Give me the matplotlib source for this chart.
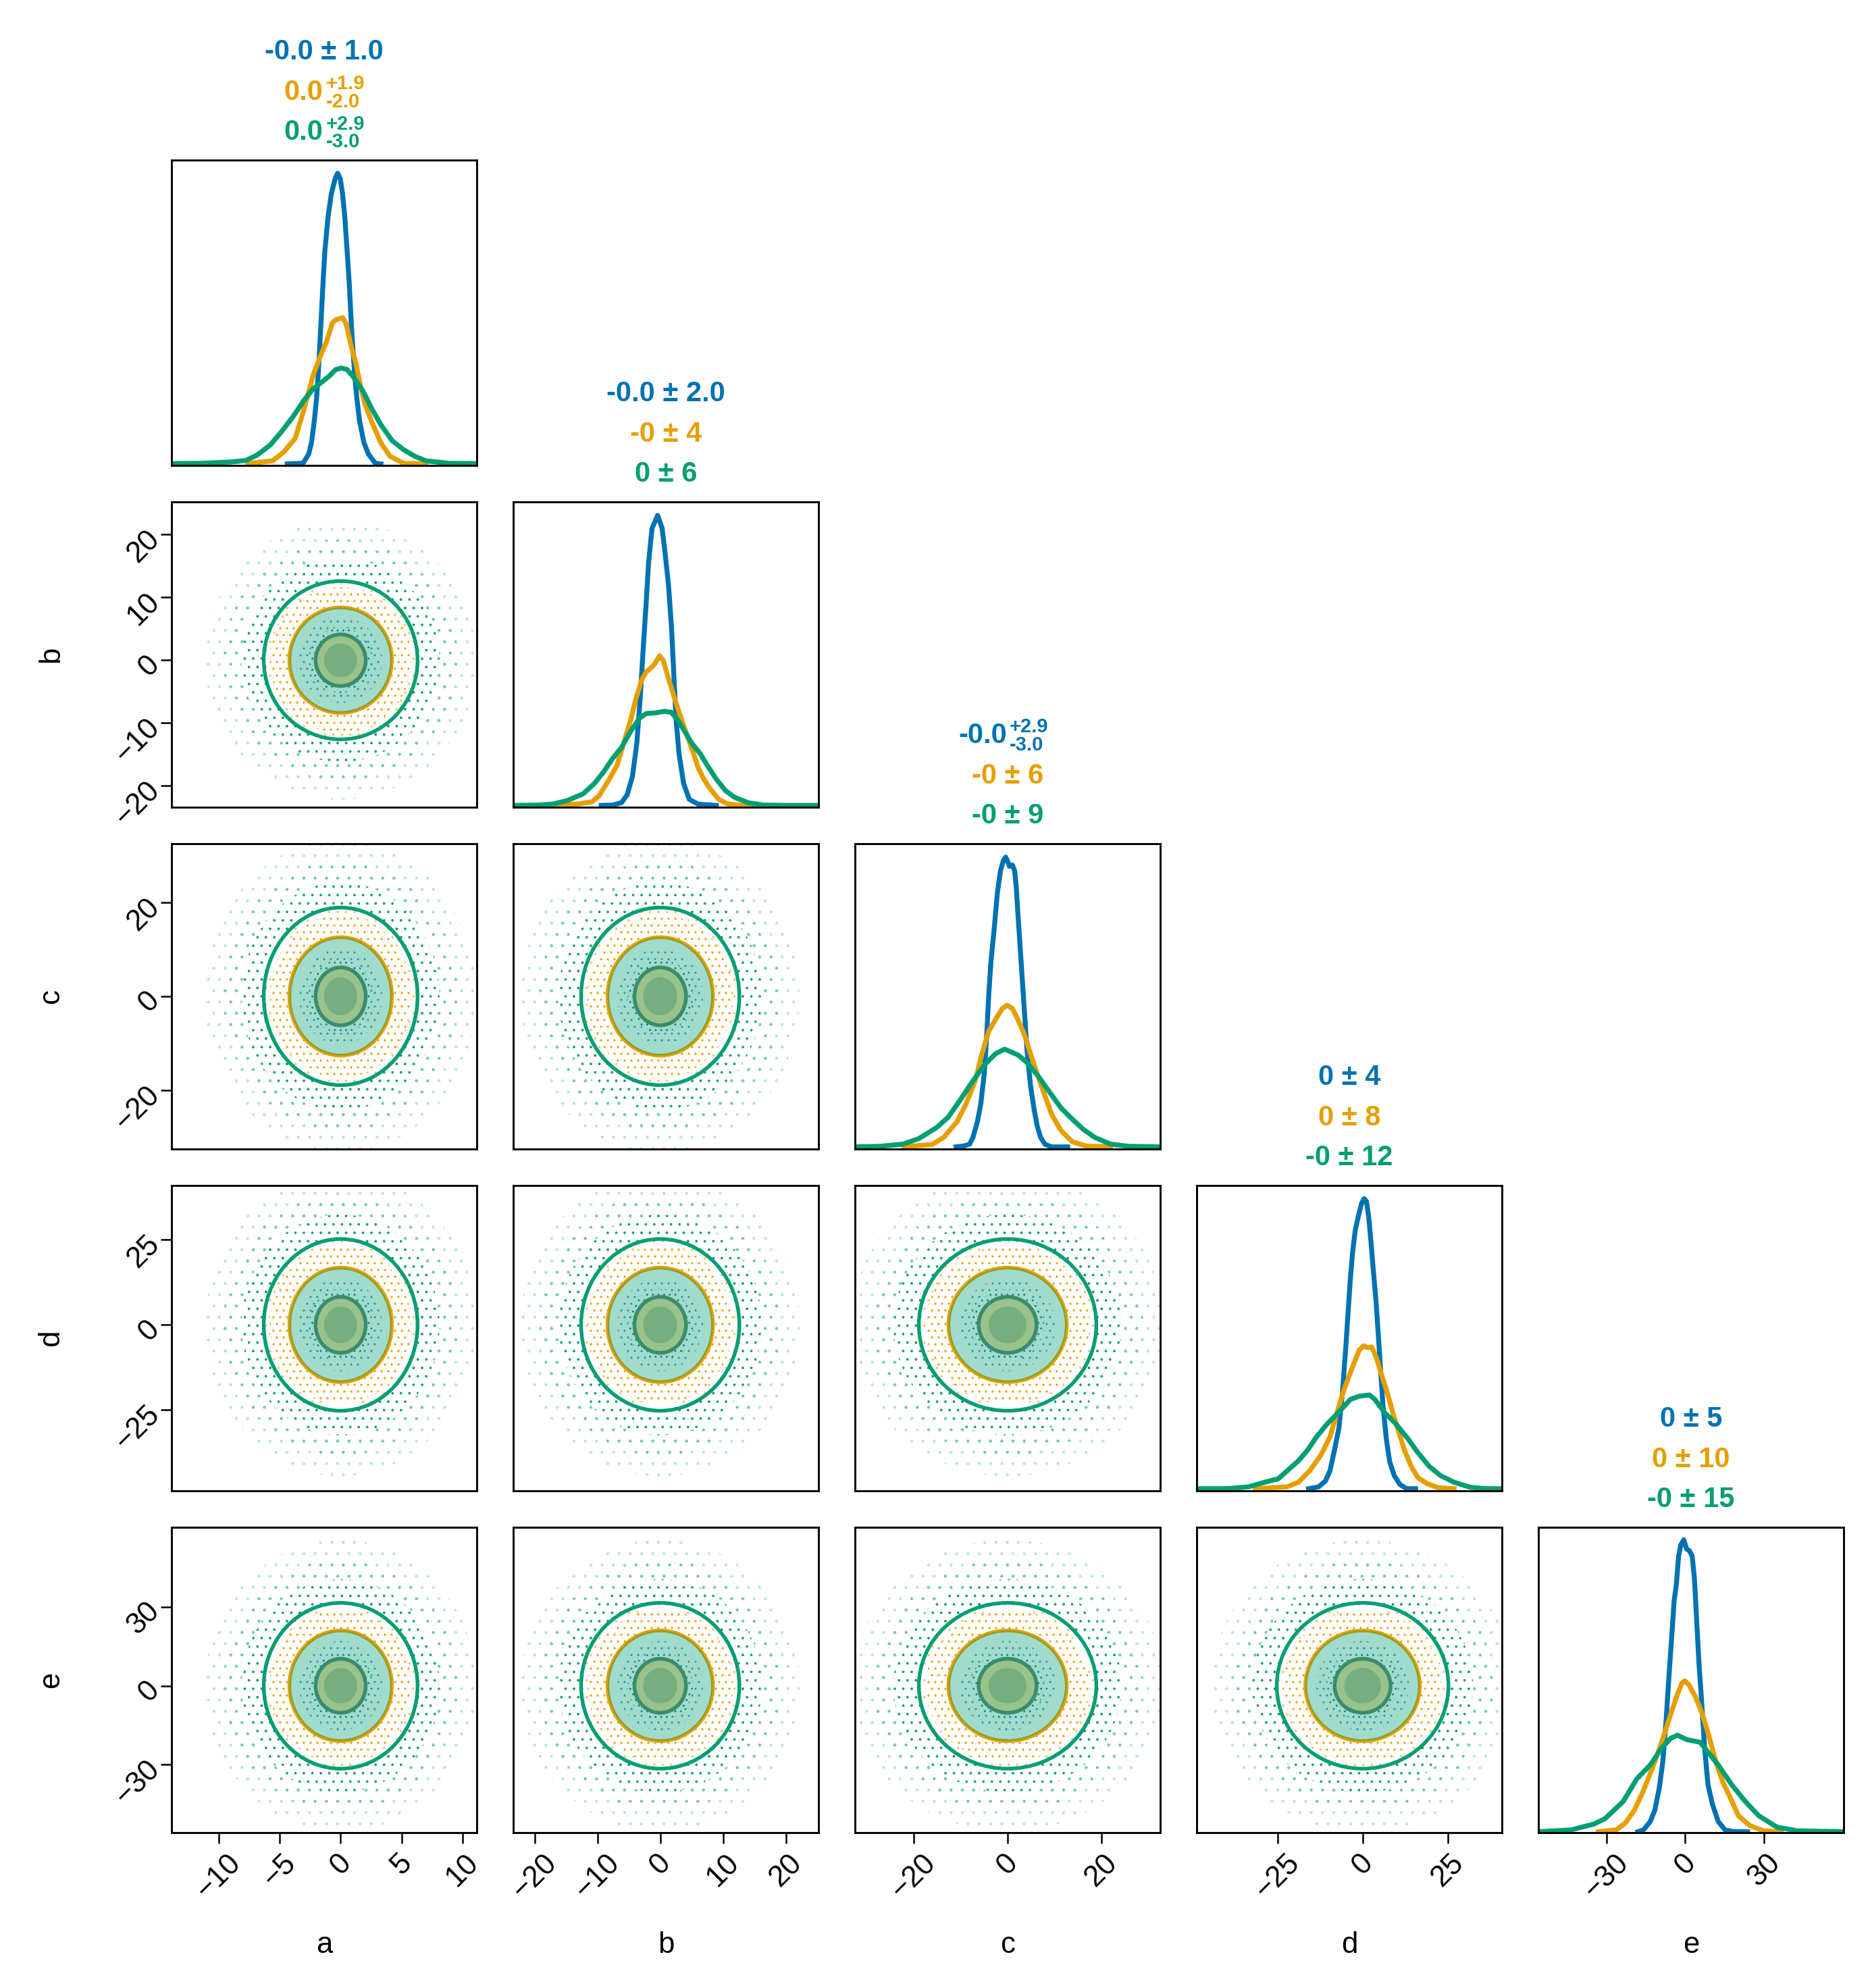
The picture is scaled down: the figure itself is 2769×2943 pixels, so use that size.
import matplotlib
matplotlib.use("Agg")
import matplotlib.pyplot as plt
from matplotlib.patches import Circle, Wedge
from matplotlib.transforms import Affine2D

plt.rcParams['font.family'] = ['Liberation Sans', 'DejaVu Sans']
plt.rcParams['hatch.linewidth'] = 0.3

names = ["a", "b", "c", "d", "e"]
colors = ["#0072B2", "#E69F00", "#009E73"]

# axis ranges and ticks for each variable
limits = [(-13.85, 11.15), (-23.4, 25.2), (-32.5, 32.5), (-48.7, 40.9), (-55.8, 60.2)]
ticks = [[-10, -5, 0, 5, 10], [-20, -10, 0, 10, 20], [-20, 0, 20], [-25, 0, 25], [-30, 0, 30]]

# spread of each series in every variable (read from the titles)
sigma_blue = [1.0, 2.0, 3.0, 4.0, 5.0]
sigma_orange = [2.0, 4.0, 6.0, 8.0, 10.0]
sigma_green = [3.0, 6.0, 9.0, 12.0, 15.0]

# titles above the diagonal panels, (value, upper, lower) for asymmetric ones
title_blue = ["-0.0 ± 1.0", "-0.0 ± 2.0", ("-0.0", "+2.9", "-3.0"), "0 ± 4", "0 ± 5"]
title_orange = [("0.0", "+1.9", "-2.0"), "-0 ± 4", "-0 ± 6", "0 ± 8", "0 ± 10"]
title_green = [("0.0", "+2.9", "-3.0"), "0 ± 6", "-0 ± 9", "-0 ± 12", "-0 ± 15"]

# contour levels of the 2d panels, in units of each series' sigma
fill_r = [1.35, 1.1, 1.4]
line_r = [2.05, 2.1, 2.1]
# scatter zones outside the outer contour: (inner, outer, hatch, alpha)
dots_blue = [(2.1, 2.6, '......', 1.0), (2.6, 3.4, '.....', 0.6)]
dots_orange = [(2.1, 2.9, '.....', 1.0), (2.9, 3.5, '....', 0.45)]
dots_green = [(2.1, 2.7, '....', 0.95), (2.7, 3.2, '...', 0.45), (3.2, 3.7, '...', 0.2)]

# marginal densities (height relative to panel)
a_blue_x = [-4.37, -3.08, -2.62, -2.39, -2.15, -1.97, -1.84, -1.64, -1.45, -1.29, -1.03, -0.77, -0.45, -0.25,
            -0.03, 0.16, 0.34, 0.53, 0.71, 0.90, 1.15, 1.32, 1.54, 1.91, 2.28, 2.84, 3.30]
a_blue_y = [0.005, 0.007, 0.037, 0.074, 0.148, 0.222, 0.296, 0.444, 0.592, 0.703, 0.814, 0.888, 0.939, 0.957,
            0.939, 0.888, 0.814, 0.703, 0.592, 0.444, 0.296, 0.222, 0.148, 0.074, 0.037, 0.007, 0.005]
a_orange_x = [-7.60, -5.57, -4.65, -3.72, -2.99, -2.25, -1.69, -1.14, -0.68, -0.40, 0.16, 0.43, 0.90, 1.26,
              1.63, 2.00, 2.56, 3.30, 4.04, 5.14, 6.99]
a_orange_y = [0.006, 0.015, 0.044, 0.089, 0.185, 0.296, 0.355, 0.407, 0.466, 0.477, 0.484, 0.466, 0.385, 0.333,
              0.259, 0.200, 0.141, 0.074, 0.030, 0.007, 0.005]
a_green_x = [-13.85, -11.48, -9.08, -7.79, -6.87, -5.76, -4.83, -3.91, -2.99, -2.25, -1.51, -0.95, -0.40, 0.06,
             0.53, 1.08, 1.82, 2.56, 3.30, 4.22, 5.14, 6.07, 6.99, 8.84, 11.15]
a_green_y = [0.006, 0.007, 0.011, 0.016, 0.033, 0.067, 0.111, 0.159, 0.214, 0.251, 0.274, 0.292, 0.314, 0.319,
             0.314, 0.288, 0.244, 0.185, 0.133, 0.081, 0.052, 0.030, 0.015, 0.007, 0.006]

b_blue_x = [-9.39, -7.60, -6.16, -5.26, -4.43, -3.72, -3.18, -2.75, -2.28, -1.85, -1.31, -0.41, 0.31, 0.74,
            1.31, 1.82, 2.17, 2.53, 3.00, 3.72, 4.62, 6.05, 8.93]
b_blue_y = [0.006, 0.007, 0.015, 0.041, 0.100, 0.211, 0.359, 0.507, 0.655, 0.802, 0.913, 0.956, 0.913, 0.839,
            0.729, 0.581, 0.433, 0.285, 0.174, 0.078, 0.026, 0.010, 0.006]
b_orange_x = [-16.58, -12.98, -10.83, -9.75, -8.31, -6.88, -5.80, -4.72, -3.82, -2.93, -2.21, -1.31, -0.77,
              -0.12, 0.49, 1.03, 1.92, 2.82, 3.54, 4.44, 5.34, 6.05, 6.95, 7.85, 9.29, 10.72, 12.88, 14.67]
b_orange_y = [0.006, 0.011, 0.018, 0.037, 0.085, 0.137, 0.211, 0.285, 0.359, 0.418, 0.444, 0.459, 0.473,
              0.496, 0.481, 0.441, 0.381, 0.322, 0.278, 0.226, 0.174, 0.129, 0.092, 0.063, 0.026, 0.011, 0.006, 0.006]
b_green_x = [-23.4, -19.45, -16.93, -14.78, -12.26, -10.47, -9.03, -7.60, -6.16, -4.72, -3.29, -2.21, -0.77,
             0.67, 1.74, 2.82, 3.90, 4.98, 6.41, 7.49, 8.93, 10.36, 11.80, 13.96, 16.47, 20.06, 25.2]
b_green_y = [0.006, 0.007, 0.011, 0.022, 0.044, 0.078, 0.115, 0.159, 0.196, 0.248, 0.292, 0.307, 0.309,
             0.314, 0.311, 0.285, 0.248, 0.211, 0.174, 0.137, 0.092, 0.055, 0.033, 0.015, 0.007, 0.006, 0.006]

c_blue_x = [-10.98, -9.30, -8.10, -7.38, -6.42, -5.70, -4.98, -4.50, -4.02, -3.54, -2.82, -2.19, -1.52, -0.90,
            -0.41, -0.08, 0.40, 1.03, 1.51, 1.84, 2.23, 2.71, 3.19, 3.67, 4.15, 4.87, 5.59, 6.31, 7.03, 7.99,
            9.43, 12.79]
c_blue_y = [0.007, 0.010, 0.016, 0.038, 0.090, 0.149, 0.246, 0.357, 0.504, 0.615, 0.726, 0.837, 0.911, 0.945,
            0.956, 0.945, 0.926, 0.930, 0.911, 0.859, 0.763, 0.652, 0.541, 0.430, 0.320, 0.209, 0.135, 0.075,
            0.038, 0.015, 0.007, 0.007]
c_orange_x = [-22.03, -16.03, -13.62, -10.74, -8.82, -6.90, -5.46, -4.02, -2.34, -1.14, -0.08, 1.03, 2.23,
              3.67, 4.87, 6.31, 7.99, 9.43, 11.35, 13.75, 16.64, 21.92]
c_orange_y = [0.007, 0.015, 0.038, 0.090, 0.149, 0.223, 0.312, 0.386, 0.430, 0.460, 0.471, 0.460, 0.423,
              0.371, 0.312, 0.246, 0.172, 0.112, 0.061, 0.024, 0.010, 0.007]
c_green_x = [-32.5, -27.07, -22.27, -18.91, -15.06, -12.66, -10.26, -7.38, -4.98, -2.58, -0.65, 2.23, 4.15,
             6.55, 8.95, 11.35, 13.75, 16.16, 18.56, 21.92, 25.76, 32.5]
c_green_y = [0.007, 0.009, 0.016, 0.034, 0.071, 0.104, 0.157, 0.223, 0.275, 0.312, 0.327, 0.308, 0.283,
             0.238, 0.186, 0.135, 0.098, 0.064, 0.038, 0.016, 0.009, 0.007]

d_blue_x = [-15.90, -12.91, -10.93, -9.60, -8.28, -6.95, -5.96, -4.96, -4.30, -3.64, -2.97, -2.18, -1.32,
            -0.32, 0.47, 1.13, 1.80, 2.46, 3.12, 3.99, 4.65, 5.31, 5.97, 6.97, 7.96, 9.29, 10.94, 12.93, 15.58]
d_blue_y = [0.007, 0.013, 0.032, 0.065, 0.132, 0.206, 0.318, 0.466, 0.577, 0.688, 0.777, 0.852, 0.896,
            0.941, 0.957, 0.948, 0.896, 0.815, 0.726, 0.614, 0.503, 0.392, 0.280, 0.169, 0.095, 0.050, 0.021,
            0.007, 0.007]
d_orange_x = [-31.47, -22.19, -18.88, -15.57, -12.25, -9.60, -7.61, -5.63, -3.64, -1.05, 0.34, 1.33, 2.66,
              3.98, 5.64, 7.30, 8.95, 10.61, 12.27, 14.26, 16.24, 18.89, 22.21, 26.85]
d_orange_y = [0.007, 0.013, 0.028, 0.065, 0.117, 0.176, 0.252, 0.326, 0.386, 0.460, 0.475, 0.469, 0.471,
              0.438, 0.378, 0.319, 0.252, 0.193, 0.134, 0.080, 0.043, 0.024, 0.010, 0.007]
d_green_x = [-48.7, -40.09, -33.46, -28.82, -24.84, -22.19, -18.88, -16.23, -13.58, -10.26, -6.95, -3.64,
             -0.99, 2.00, 3.65, 6.30, 9.62, 12.93, 16.24, 19.56, 22.87, 26.85, 31.49, 36.12, 40.9]
d_green_y = [0.007, 0.007, 0.013, 0.028, 0.039, 0.065, 0.098, 0.132, 0.176, 0.221, 0.258, 0.299, 0.310,
             0.314, 0.299, 0.258, 0.221, 0.176, 0.125, 0.080, 0.050, 0.028, 0.012, 0.007, 0.007]

e_blue_x = [-17.99, -15.84, -13.26, -11.55, -9.83, -8.54, -7.25, -6.22, -5.10, -4.24, -3.38, -2.52, -1.66,
            -0.55, 0.48, 1.51, 2.63, 3.49, 4.35, 5.21, 6.33, 7.36, 8.64, 10.36, 12.51, 15.09, 18.53, 23.68]
e_blue_y = [0.003, 0.009, 0.037, 0.074, 0.148, 0.231, 0.370, 0.508, 0.647, 0.758, 0.813, 0.906, 0.943,
            0.959, 0.929, 0.924, 0.906, 0.832, 0.693, 0.555, 0.416, 0.277, 0.157, 0.092, 0.037, 0.009, 0.003,
            0.003]
e_orange_x = [-33.03, -26.15, -22.72, -19.28, -15.84, -12.41, -8.97, -5.53, -2.95, -1.23, -0.20, 1.34, 3.92,
              6.50, 9.08, 11.66, 14.23, 16.81, 20.25, 24.54, 29.70, 36.57]
e_orange_y = [0.003, 0.009, 0.032, 0.074, 0.139, 0.213, 0.296, 0.388, 0.453, 0.490, 0.497, 0.485, 0.444,
              0.388, 0.314, 0.231, 0.166, 0.120, 0.055, 0.023, 0.006, 0.003]
e_green_x = [-55.8, -43.34, -34.75, -30.45, -23.58, -18.42, -13.26, -8.97, -5.53, -2.95, 0.48, 5.64, 9.08,
             12.51, 17.67, 22.82, 27.98, 34.85, 42.59, 60.2]
e_green_y = [0.003, 0.009, 0.028, 0.046, 0.102, 0.176, 0.222, 0.277, 0.309, 0.319, 0.305, 0.296, 0.259,
             0.222, 0.157, 0.102, 0.055, 0.018, 0.006, 0.003]

marginals = [
    [(a_blue_x, a_blue_y), (a_orange_x, a_orange_y), (a_green_x, a_green_y)],
    [(b_blue_x, b_blue_y), (b_orange_x, b_orange_y), (b_green_x, b_green_y)],
    [(c_blue_x, c_blue_y), (c_orange_x, c_orange_y), (c_green_x, c_green_y)],
    [(d_blue_x, d_blue_y), (d_orange_x, d_orange_y), (d_green_x, d_green_y)],
    [(e_blue_x, e_blue_y), (e_orange_x, e_orange_y), (e_green_x, e_green_y)],
]
sigmas = [sigma_blue, sigma_orange, sigma_green]
dot_zones = [dots_blue, dots_orange, dots_green]
titles = [title_blue, title_orange, title_green]
fill_alpha = [0.37, 0.4, 0.37]

W, H = 2769, 2943
fig = plt.figure(figsize=(W / 300, H / 300), dpi=300)
fig.patch.set_facecolor("white")

panel = 452
pitch = 506
left0, top0 = 254, 237

title_base = [35.8, 21.4, 7.2]   # points above panel top, per series


def put_title(ax, item, color, base):
    kw = dict(xy=(0.5, 1), xycoords="axes fraction", textcoords="offset points",
              fontweight="bold", color=color, va="baseline")
    if isinstance(item, tuple):
        main, up, lo = item
        ax.annotate(main, xytext=(-0.3, base), ha="right", fontsize=10, **kw)
        ax.annotate(up, xytext=(0.6, base + 3.7), ha="left", fontsize=7, **kw)
        ax.annotate(lo, xytext=(0.6, base - 2.7), ha="left", fontsize=7, **kw)
    else:
        ax.annotate(item, xytext=(0, base), ha="center", fontsize=10, **kw)


for i in range(5):
    for j in range(i + 1):
        x0 = left0 + pitch * j
        y0 = top0 + pitch * i
        ax = fig.add_axes([x0 / W, 1 - (y0 + panel) / H, panel / W, panel / H])
        for s in ax.spines.values():
            s.set_linewidth(0.7)
        ax.tick_params(direction="out", length=3.8, width=0.6, labelsize=10.5, pad=2.0)
        ax.set_xlim(*limits[j])

        if i == j:
            for k in range(3):
                xs, ys = marginals[i][k]
                ax.plot(xs, ys, color=colors[k], lw=1.75, solid_joinstyle="round")
            ax.set_ylim(0, 1)
            ax.set_yticks([])
            for k in range(3):
                put_title(ax, titles[k][i], colors[k], title_base[k])
        else:
            ax.set_ylim(*limits[i])
            for k in range(3):
                sx = sigmas[k][j]
                sy = sigmas[k][i]
                tr = Affine2D().scale(sx, sy) + ax.transData
                ax.add_patch(Circle((0, 0), fill_r[k], transform=tr, facecolor=colors[k],
                                    alpha=fill_alpha[k], lw=0))
                ax.add_patch(Circle((0, 0), line_r[k], transform=tr, facecolor="none",
                                    edgecolor=colors[k], lw=1.3))
                for r0, r1, hatch, al in dot_zones[k]:
                    rgba = matplotlib.colors.to_rgba(colors[k], al)
                    ax.add_patch(Wedge((0, 0), r1, 0, 360, width=r1 - r0, transform=tr,
                                       facecolor="none", edgecolor=rgba, hatch=hatch, lw=0))
            if j == 0:
                ax.set_yticks(ticks[i])
                for lab in ax.get_yticklabels():
                    lab.set_rotation(45)
                    lab.set_rotation_mode("anchor")
                    lab.set_ha("right")
                    lab.set_va("center")
            else:
                ax.set_yticks([])

        if i == 4:
            ax.set_xticks(ticks[j])
            ax.tick_params(axis="x", labelrotation=45)
        else:
            ax.set_xticks([])

# axis labels
for j in range(5):
    cx = (left0 + pitch * j + panel / 2) / W
    fig.text(cx, 52 / H, names[j], ha="center", va="baseline", fontsize=10.5)
for i in range(1, 5):
    cy = 1 - (top0 + pitch * i + panel / 2) / H
    fig.text(76 / W, cy, names[i], rotation=90, ha="center", va="center", fontsize=10.5)

fig.savefig("out.png", dpi=300, facecolor="white")
